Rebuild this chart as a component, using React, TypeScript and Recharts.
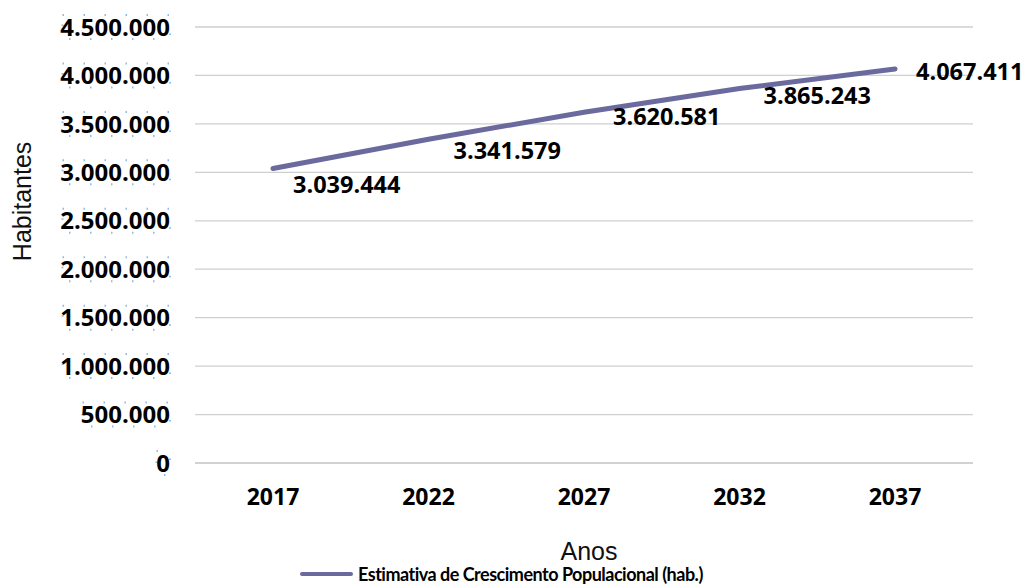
import React from "react";
import { LineChart, Line, XAxis, YAxis, CartesianGrid, Legend, LabelList } from "recharts";

const years = ["2017", "2022", "2027", "2032", "2037"];
const populacao = [3039444, 3341579, 3620581, 3865243, 4067411];
const yTicks = [0, 500000, 1000000, 1500000, 2000000, 2500000, 3000000, 3500000, 4000000, 4500000];

const chartData = years.map((ano, i) => ({ ano, pop: populacao[i] }));

const LINE_COLOR = "#6a6a9e";
const GRID = "#cfcfcf";
const BOLD_FONT = "'Open Sans', Lato, sans-serif";
const LEGEND_FONT = "Lato, 'Open Sans', sans-serif";
const PLAIN_FONT = "'Liberation Sans', Arial, sans-serif";

// small nudges so labels sit where Excel put them (dx, dy from the point)
const labelNudge: [number, number][] = [
  [20, 16],
  [25, 11],
  [29, 4],
  [24, 7],
  [21, 3],
];

function fmt(v: number): string {
  return v.toLocaleString("de-DE");
}

function YTick(props: any) {
  const { x, y, payload } = props;
  const txt = fmt(payload.value);
  const digits = txt.replace(/\./g, "").length;
  const dots = txt.length - digits;
  const w = digits * 13.5 + dots * 6.5;
  return (
    <g>
      <rect
        x={x - w}
        y={y - 12}
        width={w}
        height={24}
        fill="none"
        stroke="#8fbbe6"
        strokeWidth={2}
        strokeDasharray="1.5 19.5"
      />
      <text x={x} y={y} dy="0.36em" textAnchor="end" fontFamily={BOLD_FONT} fontWeight={700} fontSize={24} fill="#000">
        {txt}
      </text>
    </g>
  );
}

function PointLabel(props: any) {
  const { x, y, value, index } = props;
  const [dx, dy] = labelNudge[index] ?? [24, 8];
  return (
    <text x={x + dx} y={y + dy} dy="0.36em" textAnchor="start" fontFamily={BOLD_FONT} fontWeight={700} fontSize={23.5} fill="#000">
      {fmt(value)}
    </text>
  );
}

function LegendBox() {
  return (
    <div style={{ height: 22, display: "flex", alignItems: "center", paddingLeft: 300 }}>
      <span style={{ width: 53, height: 4, background: LINE_COLOR, borderRadius: 2, marginRight: 5 }} />
      <span
        style={{
          fontFamily: LEGEND_FONT,
          fontWeight: 700,
          fontSize: 18,
          letterSpacing: -0.5,
          color: "#000",
          whiteSpace: "nowrap",
        }}
      >
        Estimativa de Crescimento Populacional (hab.)
      </span>
    </div>
  );
}

export default function App() {
  return (
    <div style={{ position: "absolute", left: 0, top: 0, width: 1026, height: 585, background: "#fff" }}>
      <LineChart width={1026} height={585} data={chartData} margin={{ top: 27, right: 53, bottom: 0, left: 0 }}>
        <CartesianGrid vertical={false} stroke={GRID} strokeWidth={1.3} />
        <XAxis
          dataKey="ano"
          height={100}
          padding={{ left: 78, right: 78 }}
          axisLine={{ stroke: GRID, strokeWidth: 1.3 }}
          tickLine={false}
          tickSize={0}
          tickMargin={26}
          tick={{ fontFamily: BOLD_FONT, fontWeight: 700, fontSize: 23, fill: "#000" }}
          label={({ viewBox }: any) => (
            <text
              x={viewBox.x + viewBox.width / 2 + 5}
              y={viewBox.y + 88}
              dy="0.36em"
              textAnchor="middle"
              fontFamily={PLAIN_FONT}
              fontSize={25}
              fill="#111"
            >
              Anos
            </text>
          )}
        />
        <YAxis
          width={195}
          domain={[0, 4500000]}
          ticks={yTicks}
          axisLine={false}
          tickLine={false}
          tickSize={0}
          tickMargin={25}
          tick={<YTick />}
          label={({ viewBox }: any) => {
            const cx = 22;
            const cy = viewBox.y + viewBox.height * 0.4;
            return (
              <text
                x={cx}
                y={cy}
                dy="0.35em"
                textAnchor="middle"
                transform={`rotate(-90, ${cx}, ${cy})`}
                fontFamily={PLAIN_FONT}
                fontSize={25}
                fill="#111"
              >
                Habitantes
              </text>
            );
          }}
        />
        <Legend verticalAlign="bottom" align="left" content={() => <LegendBox />} />
        <Line
          type="linear"
          dataKey="pop"
          stroke={LINE_COLOR}
          strokeWidth={5}
          strokeLinecap="round"
          dot={false}
          activeDot={false}
          isAnimationActive={false}
        >
          <LabelList dataKey="pop" content={<PointLabel />} />
        </Line>
      </LineChart>
    </div>
  );
}
